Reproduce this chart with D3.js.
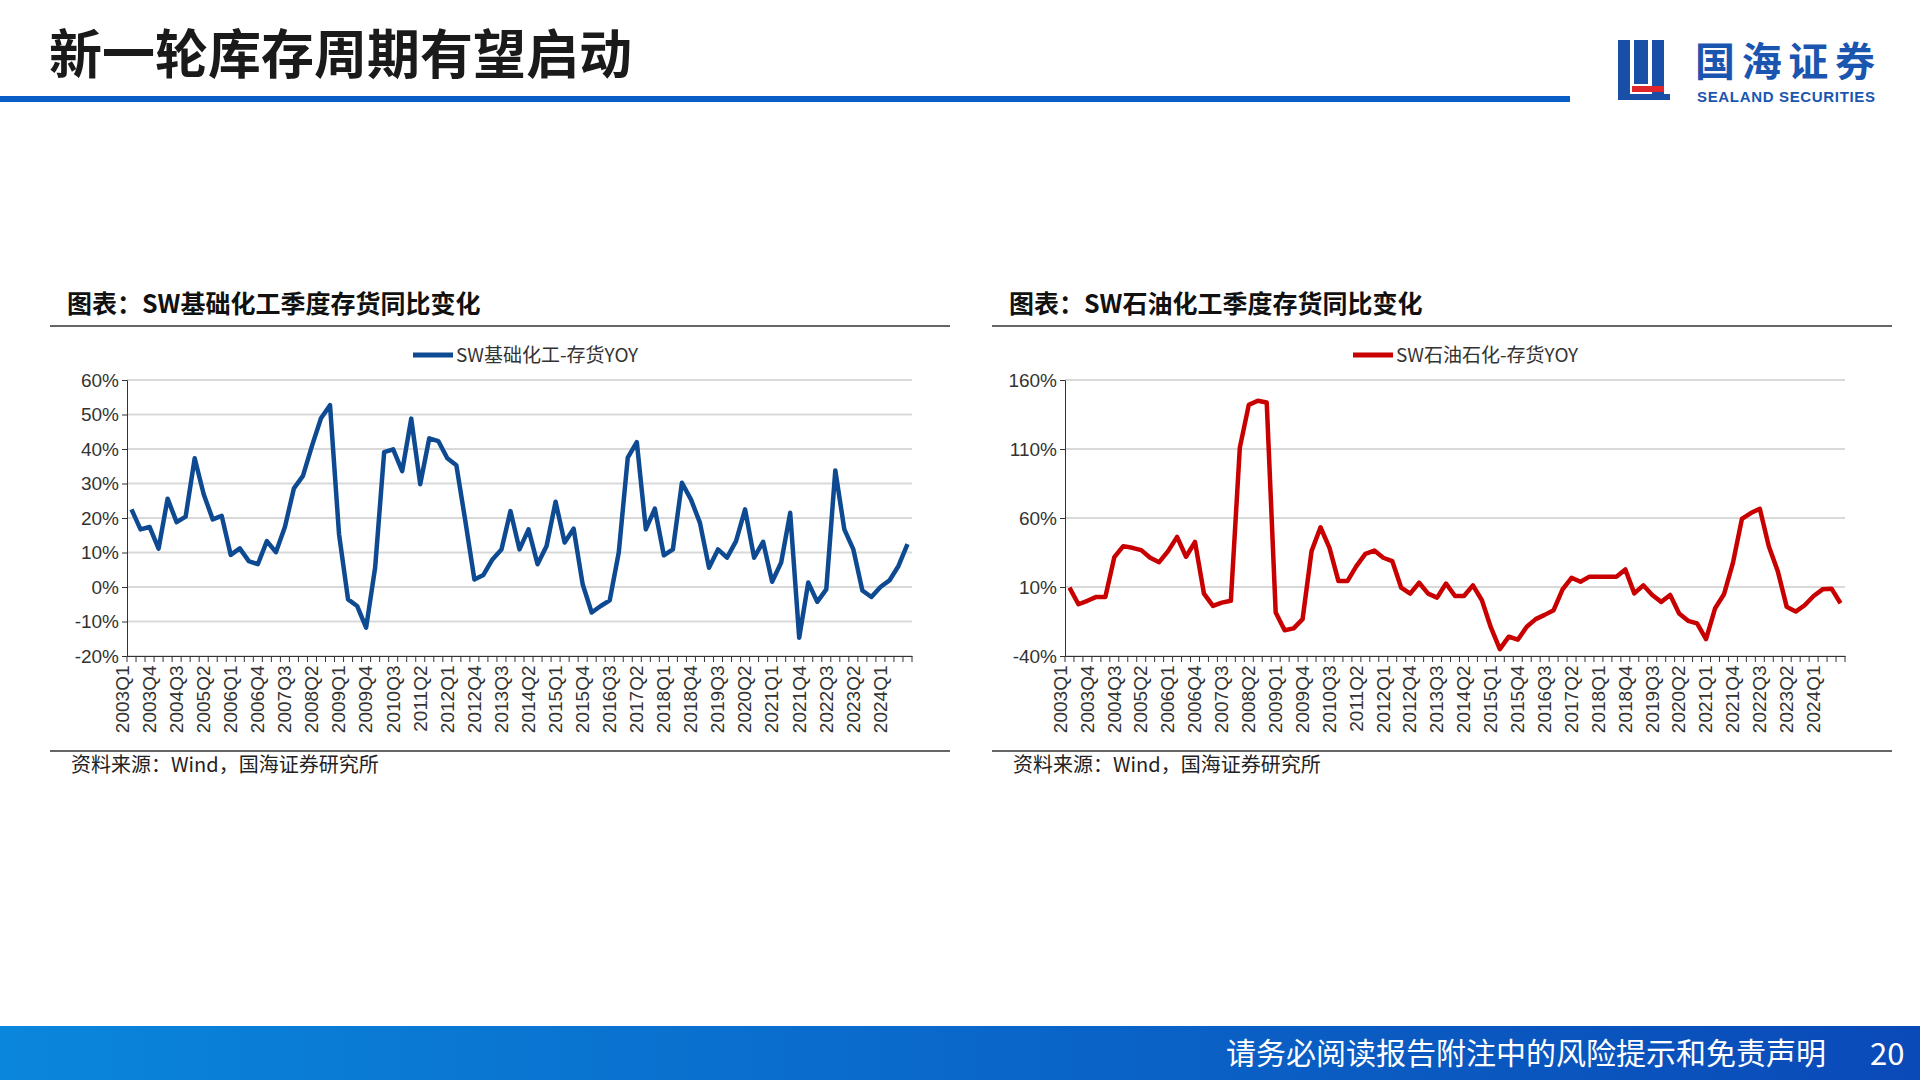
<!DOCTYPE html>
<html><head><meta charset="utf-8">
<script src="https://cdn.jsdelivr.net/npm/d3@7"></script>
<style>body{margin:0;background:#fff}svg{display:block}</style>
</head><body>
<script>
const quarters = [];
for (let y = 2003; y <= 2024; y++) for (let q = 1; q <= 4; q++) { if (y === 2024 && q === 4) break; quarters.push(y + "Q" + q); }
const basicChem = [22.5,16.7,17.4,11.1,25.6,18.8,20.4,37.3,26.9,19.6,20.6,9.3,11.2,7.5,6.6,13.3,10.1,17.4,28.6,32.2,40.9,48.9,52.7,15.3,-3.6,-5.5,-11.8,5.6,39.1,39.9,33.6,48.8,29.8,43.1,42.3,37.3,35.3,19.1,2.2,3.5,8.0,10.9,22.0,10.9,16.7,6.6,11.9,24.7,12.9,16.9,0.8,-7.4,-5.5,-3.9,10.0,37.5,42.0,16.7,22.7,9.2,10.9,30.2,25.4,18.6,5.6,10.9,8.5,13.3,22.5,8.5,13.1,1.5,7.1,21.5,-14.7,1.3,-4.3,-0.7,33.8,16.7,10.9,-1.0,-2.9,0,1.9,6.1,12.4];
const petroChem = [9.5,-2.5,0,2.8,2.8,31.6,39.6,38.4,36.7,31.2,28,36,46.3,31.9,42.7,5.2,-3.7,-1.3,0,111,142,145,143.7,-8.5,-21.3,-20,-13.3,36,53.3,38.4,14.3,14.3,25.1,34,36.4,31.2,28.8,9.5,5.2,13.1,5.2,2.3,12.5,3.5,3.5,11.2,0.4,-19.3,-35,-26,-28.2,-18.8,-13.3,-10.2,-6.8,8.3,16.7,13.8,17.5,17.5,17.5,17.5,22.7,5.4,11.2,4.2,-0.8,4.2,-9.2,-14.5,-16.4,-27.7,-5.6,4.7,27.5,59.3,63.6,66.7,39.6,21.5,-4.4,-7.8,-3.2,3.5,8.3,8.8,-1.8];
const leftTicks = [-20,-10,0,10,20,30,40,50,60];
const rightTicks = [-40,10,60,110,160];

const W = 1920, H = 1080;
const svg = d3.select("body").append("svg").attr("width", W).attr("height", H);
const CJK = "'Noto Sans CJK SC','Noto Sans',sans-serif";

// header
svg.append("text").attr("x", 49).attr("y", 74).attr("font-family", CJK).attr("font-weight", 700)
  .attr("font-size", 53).attr("fill", "#1a1a1a").text("新一轮库存周期有望启动");
svg.append("rect").attr("x", 0).attr("y", 96).attr("width", 1570).attr("height", 6).attr("fill", "#0a5cc7");
// logo
const lg = svg.append("g");
lg.append("rect").attr("x", 1618).attr("y", 40).attr("width", 12).attr("height", 60).attr("fill", "#1a4fa8");
lg.append("rect").attr("x", 1634).attr("y", 40).attr("width", 14).attr("height", 44).attr("fill", "#1a4fa8");
lg.append("rect").attr("x", 1652).attr("y", 40).attr("width", 12).attr("height", 60).attr("fill", "#1a4fa8");
lg.append("rect").attr("x", 1632).attr("y", 86).attr("width", 32).attr("height", 6).attr("fill", "#e0262b");
lg.append("rect").attr("x", 1618).attr("y", 94).attr("width", 52).attr("height", 6).attr("fill", "#1a4fa8");
svg.append("text").attr("x", 1695).attr("y", 76).attr("font-family", CJK).attr("font-weight", 700)
  .attr("font-size", 40).attr("fill", "#1a55b0").attr("textLength", 180).text("国海证券");
svg.append("text").attr("x", 1697).attr("y", 102).attr("font-family", "'Liberation Sans',Arial,sans-serif").attr("font-weight", 700)
  .attr("font-size", 15).attr("fill", "#1a55b0").attr("textLength", 178).text("SEALAND SECURITIES");

// footer
const grad = svg.append("defs").append("linearGradient").attr("id", "fg");
grad.append("stop").attr("offset", "0%").attr("stop-color", "#0a86dc");
grad.append("stop").attr("offset", "100%").attr("stop-color", "#0a4ab8");
svg.append("rect").attr("x", 0).attr("y", 1026).attr("width", W).attr("height", 54).attr("fill", "url(#fg)");
svg.append("text").attr("x", 1826).attr("y", 1064).attr("text-anchor", "end").attr("font-family", CJK)
  .attr("font-size", 30).attr("fill", "#fff").text("请务必阅读报告附注中的风险提示和免责声明");
svg.append("text").attr("x", 1870).attr("y", 1065).attr("font-family", CJK)
  .attr("font-size", 31).attr("fill", "#fff").text("20");

function chart(cfg) {
  const g = svg.append("g");
  g.append("text").attr("x", cfg.titleX).attr("y", 313).attr("font-family", CJK).attr("font-weight", 700)
    .attr("font-size", 25).attr("fill", "#111").text(cfg.title);
  g.append("line").attr("x1", cfg.ruleX0).attr("x2", cfg.ruleX1).attr("y1", 326).attr("y2", 326).attr("stroke", "#333").attr("stroke-width", 1.5);
  g.append("line").attr("x1", cfg.ruleX0).attr("x2", cfg.ruleX1).attr("y1", 751).attr("y2", 751).attr("stroke", "#333").attr("stroke-width", 1.5);
  g.append("text").attr("x", cfg.ruleX0 + 21).attr("y", 772).attr("font-family", CJK)
    .attr("font-size", 20).attr("fill", "#222").text("资料来源：Wind，国海证券研究所");

  const x = d3.scaleBand().domain(quarters).range([cfg.x0, cfg.x1]);
  const y = d3.scaleLinear().domain(cfg.domain).range([656, 380]);
  g.append("g").selectAll("line").data(cfg.ticks).join("line")
    .attr("x1", cfg.x0).attr("x2", cfg.x1).attr("y1", d => y(d)).attr("y2", d => y(d))
    .attr("stroke", "#d9d9d9").attr("stroke-width", 2);
  const ya = g.append("g").attr("transform", `translate(${cfg.x0},0)`)
    .call(d3.axisLeft(y).tickValues(cfg.ticks).tickSize(5).tickFormat(d => d + "%"));
  ya.select(".domain").attr("stroke", "#333");
  ya.selectAll(".tick line").attr("stroke", "#333");
  ya.selectAll("text").attr("font-family", "'Liberation Sans',Arial,sans-serif").attr("font-size", 19).attr("fill", "#333");
  const xa = g.append("g").attr("transform", `translate(0,656)`)
    .call(d3.axisBottom(x).tickSize(0).tickFormat((d, i) => i % 3 === 0 ? d : ""));
  xa.select(".domain").attr("stroke", "#333");
  xa.selectAll("text").attr("font-family", "'Liberation Sans',Arial,sans-serif").attr("font-size", 19).attr("fill", "#333")
    .attr("transform", "rotate(-90)").attr("text-anchor", "end").attr("dx", "-0.5em").attr("dy", "-0.3em");
  g.append("g").selectAll("line").data(quarters.concat(["end"])).join("line")
    .attr("x1", (d, i) => cfg.x0 + i * x.step()).attr("x2", (d, i) => cfg.x0 + i * x.step())
    .attr("y1", 656).attr("y2", 662).attr("stroke", "#333");
  const line = d3.line().x((d, i) => x(quarters[i]) + x.bandwidth() / 2).y(d => y(d));
  g.append("path").datum(cfg.data).attr("d", line).attr("fill", "none")
    .attr("stroke", cfg.color).attr("stroke-width", 4.5).attr("stroke-linejoin", "round");
  g.append("line").attr("x1", cfg.legX).attr("x2", cfg.legX + 40).attr("y1", 355).attr("y2", 355)
    .attr("stroke", cfg.color).attr("stroke-width", 5);
  g.append("text").attr("x", cfg.legX + 43).attr("y", 362).attr("font-family", CJK)
    .attr("font-size", 19).attr("fill", "#333").text(cfg.legend);
}

chart({title: "图表：SW基础化工季度存货同比变化", titleX: 67, ruleX0: 50, ruleX1: 950,
  x0: 127, x1: 912, domain: [-20, 60], ticks: leftTicks, data: basicChem, color: "#0d4a92",
  legX: 413, legend: "SW基础化工-存货YOY"});
chart({title: "图表：SW石油化工季度存货同比变化", titleX: 1009, ruleX0: 992, ruleX1: 1892,
  x0: 1065, x1: 1845, domain: [-40, 160], ticks: rightTicks, data: petroChem, color: "#c80000",
  legX: 1353, legend: "SW石油石化-存货YOY"});
</script>
</body></html>
